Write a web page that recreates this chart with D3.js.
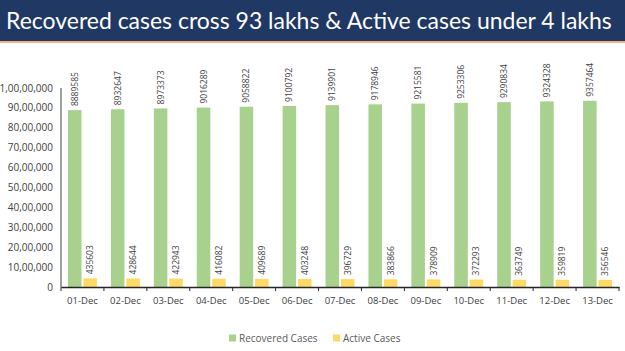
<!DOCTYPE html>
<html lang="en">
<head>
    <meta charset="utf-8" />
    <title>Recovered vs Active cases</title>
    <script src="https://d3js.org/d3.v7.min.js"></script>
    <style>
        body { margin: 0; background: #fff; }
    </style>
</head>
<body>
<script>
    var w = 625;
    var h = 351;

    // data
    var dates = ["01-Dec","02-Dec","03-Dec","04-Dec","05-Dec","06-Dec","07-Dec",
                 "08-Dec","09-Dec","10-Dec","11-Dec","12-Dec","13-Dec"];
    var recovered = [8889585, 8932647, 8973373, 9016289, 9058822, 9100792, 9139901,
                     9178946, 9215581, 9253306, 9290834, 9324328, 9357464];
    var active = [435603, 428644, 422943, 416082, 409689, 403248, 396729,
                  383866, 378909, 372293, 363749, 359819, 356546];
    var tickValues = [0, 1e6, 2e6, 3e6, 4e6, 5e6, 6e6, 7e6, 8e6, 9e6, 1e7];
    var tickLabels = ["0","10,00,000","20,00,000","30,00,000","40,00,000","50,00,000",
                      "60,00,000","70,00,000","80,00,000","90,00,000","1,00,00,000"];
    var seriesNames = ["Recovered Cases", "Active Cases"];
    var seriesColors = ["#a9d18e", "#ffd966"];

    var rows = dates.map(function(d, i) {
        return { date: d, values: [recovered[i], active[i]] };
    });

    var font = "\"Open Sans\", sans-serif";

    var svg = d3.select("body").append("svg")
        .attr("width", w)
        .attr("height", h)
        .style("font-family", font);

    // header band
    svg.append("rect").attr("x", 0).attr("y", 0).attr("width", w).attr("height", 41)
        .attr("fill", "#203864");
    svg.append("rect").attr("x", 0).attr("y", 41).attr("width", w).attr("height", 2)
        .attr("fill", "#f4b183");
    var title = svg.append("text")
        .attr("x", 6)
        .attr("y", 29)
        .attr("fill", "#ffffff")
        .style("font-family", "Lato, sans-serif")
        .attr("font-size", 22)
        .text("Recovered cases cross 93 lakhs & Active cases under 4 lakhs");
    // fit title to the band width
    var tl = title.node().getComputedTextLength();
    title.attr("font-size", 22 * 606 / tl);

    // plot area (note: "top" is reserved on window, so use other names)
    var plotLeft = 61, plotRight = 619, plotTop = 88, plotBottom = 287;

    var yScale = d3.scaleLinear()
        .domain([0, 1e7])
        .range([plotBottom, plotTop]);

    var x0 = d3.scaleBand()
        .domain(dates)
        .range([plotLeft, plotRight]);

    var x1 = d3.scaleBand()
        .domain([0, 1])
        .range([7, x0.bandwidth() - 7])
        .paddingInner(0.12);

    // y tick labels (Indian grouping)
    svg.selectAll("text.ytick")
        .data(tickValues)
        .enter()
        .append("text")
        .attr("class", "ytick")
        .attr("x", 53)
        .attr("y", function(d) { return yScale(d); })
        .attr("dy", "0.35em")
        .attr("text-anchor", "end")
        .attr("font-size", "10px")
        .attr("fill", "#404040")
        .text(function(d, i) { return tickLabels[i]; });

    var groups = svg.selectAll("g.day")
        .data(rows)
        .enter()
        .append("g")
        .attr("class", "day")
        .attr("transform", function(d) { return "translate(" + x0(d.date) + ",0)"; });

    groups.selectAll("rect")
        .data(function(d) { return d.values; })
        .enter()
        .append("rect")
        .attr("x", function(d, i) { return x1(i); })
        .attr("y", function(d) { return yScale(d); })
        .attr("width", x1.bandwidth())
        .attr("height", function(d) { return plotBottom - yScale(d); })
        .attr("fill", function(d, i) { return seriesColors[i]; });

    // value labels, rotated above each bar
    groups.selectAll("text")
        .data(function(d) { return d.values; })
        .enter()
        .append("text")
        .attr("transform", function(d, i) {
            var cx = x1(i) + x1.bandwidth() / 2;
            return "translate(" + cx + "," + (yScale(d) - 4) + ") rotate(-90)";
        })
        .attr("dy", "0.35em")
        .attr("font-size", "8.5px")
        .attr("fill", "#404040")
        .text(function(d) { return d; });

    // axes
    svg.append("line")
        .attr("x1", plotLeft).attr("x2", plotLeft)
        .attr("y1", plotTop).attr("y2", plotBottom)
        .attr("stroke", "#404040").attr("stroke-width", 1);

    var xAxis = d3.axisBottom(x0).tickSize(0).tickPadding(10);
    var gx = svg.append("g")
        .attr("transform", "translate(0," + plotBottom + ")")
        .call(xAxis);
    gx.select(".domain").attr("stroke", "#262626").attr("stroke-width", 1.5);
    gx.selectAll("text")
        .attr("font-family", font)
        .attr("font-size", "9.5px")
        .attr("fill", "#404040");
    // category boundary ticks
    gx.selectAll("line.sep")
        .data(dates.concat(["end"]))
        .enter()
        .append("line")
        .attr("class", "sep")
        .attr("x1", function(d, i) { return plotLeft + i * x0.step(); })
        .attr("x2", function(d, i) { return plotLeft + i * x0.step(); })
        .attr("y1", 0).attr("y2", 4)
        .attr("stroke", "#262626");

    // legend
    var legendX = [229, 333];
    var legend = svg.selectAll("g.legend")
        .data(seriesNames)
        .enter()
        .append("g")
        .attr("class", "legend")
        .attr("transform", function(d, i) { return "translate(" + legendX[i] + ",338)"; });
    legend.append("rect")
        .attr("x", 0).attr("y", -3.5)
        .attr("width", 7).attr("height", 7)
        .attr("fill", function(d, i) { return seriesColors[i]; });
    legend.append("text")
        .attr("x", 10)
        .attr("dy", "0.35em")
        .attr("font-size", "10px")
        .attr("fill", "#595959")
        .text(function(d) { return d; });
</script>
</body>
</html>
